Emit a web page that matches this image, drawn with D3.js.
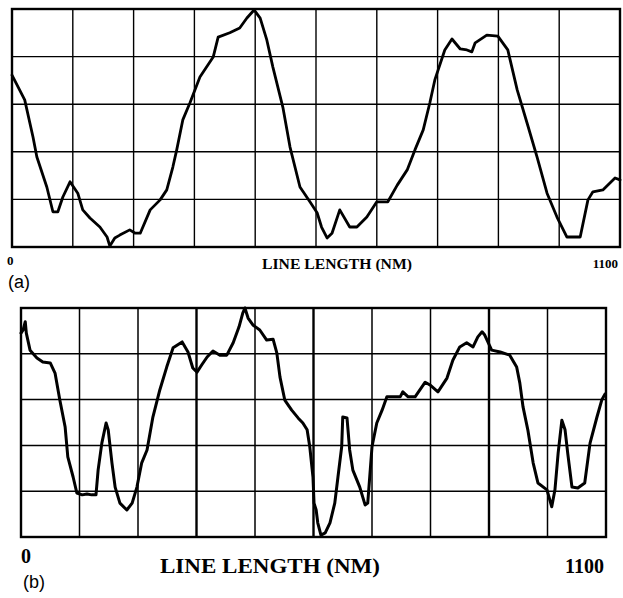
<!DOCTYPE html>
<html>
<head>
<meta charset="utf-8">
<script src="https://cdn.jsdelivr.net/npm/d3@7"></script>
<style>
body { margin: 0; background: #fff; }
svg { display: block; }
</style>
</head>
<body>
<svg></svg>
<script>
// профиль (a): длина линии (нм) и высота (в делениях сетки)
const lengthA = [0, 23, 38, 45, 63, 74, 83, 92, 105, 119, 128, 141, 159, 172, 177, 186, 195, 213, 223, 232,
    250, 268, 280, 291, 298, 309, 322, 340, 364, 373, 394, 412, 425, 438, 449, 461, 472, 490, 503, 521,
    539, 552, 560, 570, 579, 593, 611, 624, 642, 660, 680, 697, 715, 729, 744, 756, 765, 783, 796, 811,
    823, 832, 838, 859, 879, 897, 914, 932, 950, 968, 986, 1004, 1028, 1042, 1051, 1069, 1091, 1100];
const heightA = [3.61, 3.09, 2.31, 1.89, 1.26, 0.74, 0.74, 1.05, 1.37, 1.13, 0.78, 0.61, 0.42, 0.21, 0.02, 0.19, 0.25, 0.36, 0.29, 0.29,
    0.78, 0.99, 1.20, 1.68, 2.04, 2.67, 3.03, 3.57, 3.99, 4.41, 4.50, 4.60, 4.81, 4.98, 4.81, 4.35, 3.78, 2.94, 2.10, 1.26,
    0.95, 0.72, 0.42, 0.19, 0.29, 0.78, 0.42, 0.42, 0.63, 0.95, 0.95, 1.30, 1.62, 2.04, 2.46, 3.03, 3.51, 4.14, 4.37, 4.16,
    4.14, 4.10, 4.29, 4.45, 4.43, 4.14, 3.30, 2.60, 1.89, 1.13, 0.63, 0.21, 0.21, 0.99, 1.16, 1.20, 1.45, 1.41];

// профиль (b)
const lengthB = [0, 4, 8, 10, 17, 30, 41, 55, 64, 73, 83, 88, 98, 105, 115, 124, 133, 141, 145, 152,
    160, 164, 171, 177, 186, 199, 209, 218, 227, 237, 248, 261, 274, 286, 303, 314, 323, 331, 340, 350,
    361, 374, 387, 399, 410, 417, 421, 427, 436, 449, 462, 474, 481, 487, 496, 509, 521, 530, 538, 543,
    549, 551, 555, 558, 564, 572, 581, 590, 596, 603, 605, 613, 618, 624, 637, 647, 652, 660, 669, 679,
    688, 699, 713, 718, 728, 741, 760, 769, 784, 801, 812, 825, 838, 850, 859, 867, 872, 885, 901, 919,
    932, 938, 944, 953, 963, 972, 989, 998, 1004, 1010, 1017, 1023, 1028, 1036, 1047, 1060, 1070, 1083, 1092, 1098];
const heightB = [4.45, 4.52, 4.70, 4.45, 4.08, 3.91, 3.82, 3.80, 3.58, 2.99, 2.40, 1.75, 1.31, 0.96, 0.92, 0.94, 0.92, 0.92, 1.46, 2.05,
    2.49, 2.34, 1.62, 1.09, 0.74, 0.59, 0.74, 1.09, 1.62, 1.90, 2.62, 3.21, 3.71, 4.13, 4.26, 4.04, 3.69, 3.60, 3.76, 3.93,
    4.06, 3.97, 3.97, 4.24, 4.59, 4.89, 5.00, 4.78, 4.63, 4.52, 4.30, 4.32, 4.02, 3.49, 2.99, 2.77, 2.60, 2.49, 2.34, 1.97,
    1.31, 0.74, 0.59, 0.31, 0.04, 0.09, 0.31, 0.74, 1.31, 1.97, 2.62, 2.60, 1.90, 1.46, 1.09, 0.70, 0.74, 1.97, 2.49, 2.77,
    3.06, 3.06, 3.06, 3.17, 3.06, 3.06, 3.38, 3.32, 3.17, 3.47, 3.86, 4.15, 4.24, 4.15, 4.37, 4.48, 4.41, 4.08, 4.04, 3.97,
    3.71, 3.36, 2.84, 2.34, 1.62, 1.18, 1.03, 0.66, 1.03, 1.83, 2.55, 2.34, 1.83, 1.09, 1.07, 1.18, 2.05, 2.62, 2.99, 3.12];

// сетка и подписи
const gridX = [0, 110, 220, 330, 440, 550, 660, 770, 880, 990, 1100];
const gridY = [0, 1, 2, 3, 4, 5];
const tickLabels = ["0", "1100"];
const axisTitle = "LINE LENGTH (NM)";
const panelNames = ["(a)", "(b)"];

const width = 623;
const height = 598;
const serif = "'Liberation Serif', 'DejaVu Serif', serif";
const sans = "'Liberation Sans', Arial, sans-serif";

const svg = d3.select("svg")
    .attr("width", width)
    .attr("height", height);

svg.append("rect")
    .attr("width", width)
    .attr("height", height)
    .attr("fill", "#fff");

// настройки панелей (только расположение)
const panels = [
    {
        xs: lengthA, ys: heightA, name: panelNames[0],
        left: 12, right: 620, top: 9, bottom: 247,
        gridW: 1.4, heavy: [], lineW: 2.8,
        numSize: 13, numY: 268, zeroX: 7, zeroY: 265,
        titleX: 262, titleY: 269, titleSize: 14, titleLen: 150,
        nameX: 8, nameY: 288, nameSize: 18
    },
    {
        xs: lengthB, ys: heightB, name: panelNames[1],
        left: 21, right: 606, top: 308, bottom: 537,
        gridW: 1.5, heavy: [330, 550, 880], lineW: 3,
        numSize: 20, numY: 573, zeroX: 21, zeroY: 563,
        titleX: 160, titleY: 573, titleSize: 20, titleLen: 220,
        nameX: 23, nameY: 588, nameSize: 18
    }
];

// рисуем одну панель
let drawPanel = (p) => {
    const x = d3.scaleLinear().domain([0, 1100]).range([p.left, p.right]);
    const y = d3.scaleLinear().domain([0, 5]).range([p.bottom, p.top]);
    const g = svg.append("g");

    g.selectAll("line.vx")
        .data(gridX.slice(1, -1))
        .join("line")
        .attr("class", "vx")
        .attr("x1", d => x(d)).attr("x2", d => x(d))
        .attr("y1", y(0)).attr("y2", y(5))
        .attr("stroke", "#000")
        .attr("stroke-width", d => p.heavy.includes(d) ? p.gridW + 0.9 : p.gridW);

    g.selectAll("line.hy")
        .data(gridY.slice(1, -1))
        .join("line")
        .attr("class", "hy")
        .attr("x1", x(0)).attr("x2", x(1100))
        .attr("y1", d => y(d)).attr("y2", d => y(d))
        .attr("stroke", "#000")
        .attr("stroke-width", p.gridW);

    // рамка
    g.append("rect")
        .attr("x", x(0)).attr("y", y(5))
        .attr("width", x(1100) - x(0))
        .attr("height", y(0) - y(5))
        .attr("fill", "none")
        .attr("stroke", "#000")
        .attr("stroke-width", 2.4);

    const pts = d3.zip(p.xs, p.ys);
    const line = d3.line()
        .x(d => x(d[0]))
        .y(d => y(d[1]));

    g.append("path")
        .datum(pts)
        .attr("d", line)
        .attr("fill", "none")
        .attr("stroke", "#000")
        .attr("stroke-width", p.lineW)
        .attr("stroke-linejoin", "round")
        .attr("stroke-linecap", "round");

    // подписи оси
    g.append("text")
        .attr("x", p.zeroX).attr("y", p.zeroY)
        .attr("font-family", serif).attr("font-weight", "bold")
        .attr("font-size", p.numSize)
        .text(tickLabels[0]);

    g.append("text")
        .attr("x", x(1100) - 2).attr("y", p.numY)
        .attr("text-anchor", "end")
        .attr("font-family", serif).attr("font-weight", "bold")
        .attr("font-size", p.numSize)
        .text(tickLabels[1]);

    g.append("text")
        .attr("x", p.titleX).attr("y", p.titleY)
        .attr("font-family", serif).attr("font-weight", "bold")
        .attr("font-size", p.titleSize)
        .attr("textLength", p.titleLen)
        .attr("lengthAdjust", "spacingAndGlyphs")
        .text(axisTitle);

    g.append("text")
        .attr("x", p.nameX).attr("y", p.nameY)
        .attr("font-family", sans)
        .attr("font-size", p.nameSize)
        .text(p.name);
}

panels.forEach(drawPanel);
</script>
</body>
</html>
